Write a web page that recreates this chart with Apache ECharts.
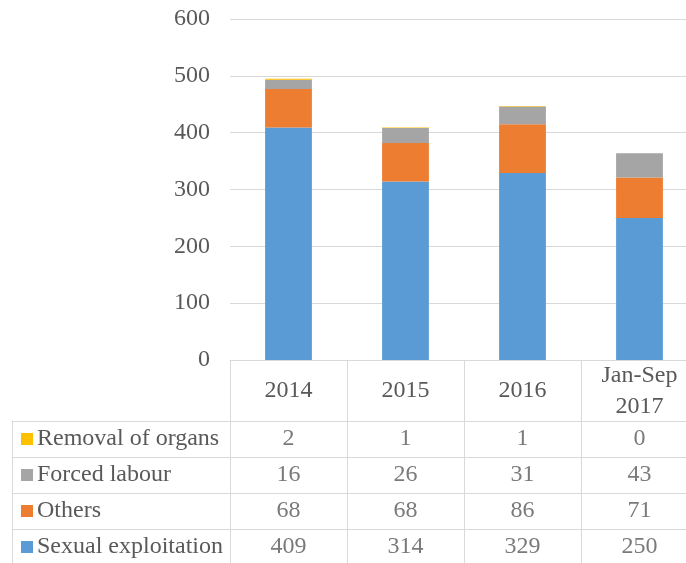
<!DOCTYPE html>
<html>
<head>
<meta charset="utf-8">
<script src="https://cdn.jsdelivr.net/npm/echarts@6/dist/echarts.min.js"></script>
<style>
  html, body { margin: 0; padding: 0; background: #fff; }
  #chart { width: 686px; height: 563px; }
</style>
</head>
<body>
<div id="chart"></div>
<script>
// categories (x) and table rows
const years = ['2014', '2015', '2016', 'Jan-Sep\n2017'];
const rowNames = ['Removal of organs', 'Forced labour', 'Others', 'Sexual exploitation'];
const rowColors = ['#ffc000', '#a5a5a5', '#ed7d31', '#5b9bd5'];

// series values
const removalOfOrgans = [2, 1, 1, 0];
const forcedLabour = [16, 26, 31, 43];
const others = [68, 68, 86, 71];
const sexualExploitation = [409, 314, 329, 250];

const yTicks = { min: 0, max: 600, interval: 100 };

const FONT = 'Liberation Serif';
const FS = 24;
const TXT = '#595959';
const LINE = '#d9d9d9';

// table rows, top to bottom
const rowValues = [removalOfOrgans, forcedLabour, others, sexualExploitation];
const cellData = [];
rowValues.forEach(function (vals, r) {
  vals.forEach(function (v, c) {
    cellData.push([c, r, v]);
  });
});

const rich = {};
rowColors.forEach(function (c, i) {
  rich['sq' + i] = { width: 12, height: 12, backgroundColor: c };
});
rich.t = { fontFamily: FONT, fontSize: FS, color: TXT, padding: [0, 0, 0, 4] };

function barSeries(name, data, color) {
  return {
    name: name,
    type: 'bar',
    stack: 'total',
    barWidth: '40%',
    data: data,
    itemStyle: { color: color },
    emphasis: { disabled: true },
    xAxisIndex: 0,
    yAxisIndex: 0
  };
}

const chart = echarts.init(document.getElementById('chart'));
chart.setOption({
  animation: false,
  textStyle: { fontFamily: FONT },
  grid: [
    { left: 230, width: 468, top: 19, bottom: 203, outerBoundsMode: 'none', containLabel: false },
    { left: 230, width: 468, top: 421, height: 144, outerBoundsMode: 'none', containLabel: false }
  ],
  xAxis: [
    {
      type: 'category',
      gridIndex: 0,
      data: years,
      axisLine: { lineStyle: { color: LINE, width: 1 } },
      axisTick: { show: true, length: 61, lineStyle: { color: LINE } },
      axisLabel: {
        margin: 31,
        verticalAlign: 'middle',
        lineHeight: 31,
        fontFamily: FONT,
        fontSize: FS,
        color: TXT
      }
    },
    {
      type: 'category',
      gridIndex: 1,
      data: years,
      axisLine: { show: false },
      axisTick: { show: false },
      axisLabel: { show: false },
      splitLine: { show: true, lineStyle: { color: LINE, width: 1 } }
    }
  ],
  yAxis: [
    {
      type: 'value',
      gridIndex: 0,
      min: yTicks.min,
      max: yTicks.max,
      interval: yTicks.interval,
      axisLine: { show: false },
      axisTick: { show: false },
      splitLine: { lineStyle: { color: LINE, width: 1 } },
      axisLabel: { margin: 20, fontFamily: FONT, fontSize: FS, color: TXT }
    },
    {
      type: 'category',
      gridIndex: 1,
      inverse: true,
      data: rowNames,
      axisLine: { show: true, lineStyle: { color: LINE } },
      axisTick: { show: true, length: 218, lineStyle: { color: LINE } },
      splitLine: { show: true, lineStyle: { color: LINE, width: 1 } },
      axisLabel: {
        align: 'left',
        margin: 209,
        formatter: function (v, i) {
          return '{sq' + i + '|}{t|' + v + '}';
        },
        rich: rich
      }
    },
    {
      type: 'category',
      gridIndex: 1,
      position: 'left',
      offset: 218,
      data: rowNames,
      axisLine: { show: true, lineStyle: { color: LINE } },
      axisTick: { show: false },
      axisLabel: { show: false }
    }
  ],
  series: [
    barSeries('Sexual exploitation', sexualExploitation, rowColors[3]),
    barSeries('Others', others, rowColors[2]),
    barSeries('Forced labour', forcedLabour, rowColors[1]),
    barSeries('Removal of organs', removalOfOrgans, rowColors[0]),
    {
      type: 'scatter',
      xAxisIndex: 1,
      yAxisIndex: 1,
      data: cellData,
      symbolSize: 1,
      itemStyle: { color: 'transparent' },
      emphasis: { disabled: true },
      label: {
        show: true,
        position: 'inside',
        formatter: function (p) { return String(p.value[2]); },
        fontFamily: FONT,
        fontSize: FS,
        color: TXT
      }
    }
  ]
});
</script>
</body>
</html>
